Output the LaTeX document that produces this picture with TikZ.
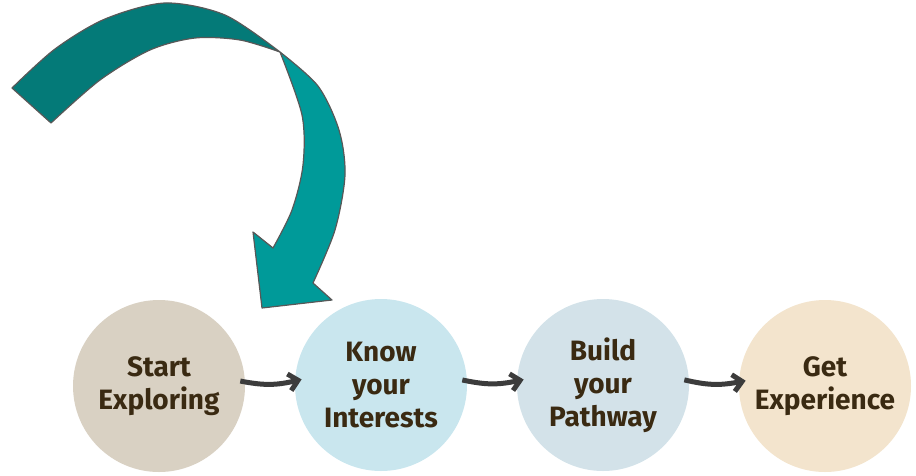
\documentclass[tikz,border=0pt]{standalone}
\usepackage{fontspec}
\setmainfont{Fira Sans}
\usetikzlibrary{arrows.meta}

\definecolor{tealdark}{HTML}{047A78}
\definecolor{teallight}{HTML}{009A99}
\definecolor{rimgray}{HTML}{585858}
\definecolor{arrowgray}{HTML}{3C3C3C}
\definecolor{textbrown}{HTML}{3A2A12}
\definecolor{startfill}{HTML}{D9D1C3}
\definecolor{knowfill}{HTML}{C9E6EE}
\definecolor{buildfill}{HTML}{D3E2E9}
\definecolor{getfill}{HTML}{F3E4CD}

\begin{document}
\begin{tikzpicture}[x=1pt,y=-1pt,
  stepnode/.style={circle,minimum size=172pt,inner sep=0pt,align=center,
    font=\bfseries\fontsize{28}{33}\selectfont,text=textbrown},
  flow/.style={line width=5pt,draw=arrowgray,-{Straight Barb[length=9pt,width=17pt]},
    shorten <=-5pt,shorten >=-7pt},
  ribbon/.style={draw=rimgray,line width=1.2pt,line join=round}]
\useasboundingbox (0,0) rectangle (916,475);

% the four steps
\node(start) at (159,386)[stepnode,fill=startfill]{Start\\Exploring};
\node(know) at (381,385)[stepnode,fill=knowfill]{Know\\your\\Interests};
\node(build) at (603,385)[stepnode,fill=buildfill]{Build\\your\\Pathway};
\node(get) at (825,386)[stepnode,fill=getfill]{Get\\Experience};

\draw[flow] ([yshift=4pt]start.east) to[bend right=12] ([yshift=4pt]know.west);
\draw[flow] ([yshift=4pt]know.east) to[bend right=12] ([yshift=4pt]build.west);
\draw[flow] ([yshift=4pt]build.east) to[bend right=12] ([yshift=4pt]get.west);

% big curved arrow, two tones
\filldraw[ribbon,fill=teallight] plot[smooth] coordinates {(280,52) (318,86) (339,130) (345,175) (335,230) (313,283)}
  -- (332,300) -- (262,308) -- (253,232)
  -- plot[smooth] coordinates {(273,248) (292,210) (303,165) (302,115) (280,52)} -- cycle;
\filldraw[ribbon,fill=tealdark] plot[smooth] coordinates {(12,88) (55,49) (105,19) (165,3) (225,15) (280,52)}
  -- plot[smooth] coordinates {(280,52) (240,40) (195,38) (150,50) (100,80) (51,123)} -- cycle;

\end{tikzpicture}
\end{document}
